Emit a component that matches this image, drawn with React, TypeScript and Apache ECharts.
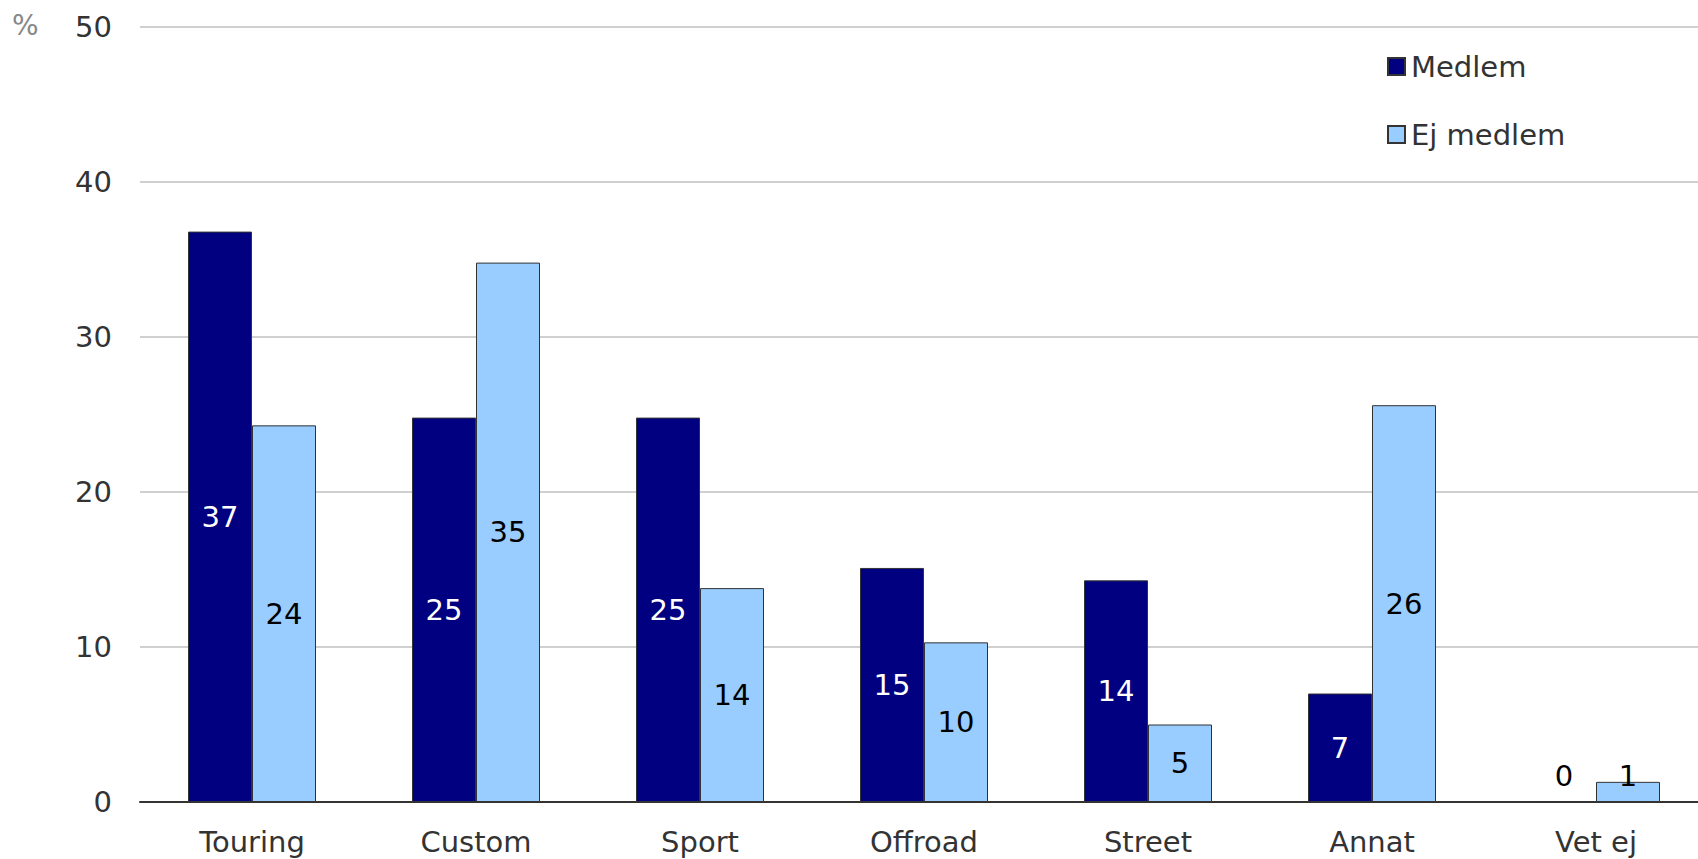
import React, { useEffect, useRef } from "react";
import * as echarts from "echarts";

const categories = ["Touring", "Custom", "Sport", "Offroad", "Street", "Annat", "Vet ej"];
const medlem = [36.8, 24.8, 24.8, 15.1, 14.3, 7.0, 0];
const ejMedlem = [24.3, 34.8, 13.8, 10.3, 5.0, 25.6, 1.3];
const yTicks = [0, 10, 20, 30, 40, 50];

const FONT = "DejaVu Sans, Verdana, sans-serif";
const FS = 29;

export default function App() {
  const ref = useRef<HTMLDivElement>(null);
  useEffect(() => {
    document.body.style.margin = "0";
    if (!ref.current) return;
    const chart = echarts.init(ref.current, null, { renderer: "svg" });
    const lastIdx = categories.length - 1;
    const mk = (vals: number[]) =>
      vals.map((v, i) =>
        i === lastIdx
          ? { value: v, label: { position: "insideBottom", distance: 12, color: "#000" } }
          : { value: v }
      );
    chart.setOption({
      animation: false,
      textStyle: { fontFamily: FONT },
      grid: {
        left: 140,
        right: -10,
        top: 27,
        bottom: 57,
        containLabel: false,
        outerBoundsMode: "none",
      },
      legend: {
        orient: "vertical",
        left: 1382,
        top: 47,
        itemWidth: 17,
        itemHeight: 17,
        itemGap: 39,
        icon: "rect",
        textStyle: { fontSize: FS, color: "#333", fontFamily: FONT, padding: [0, 0, 0, 1] },
        data: ["Medlem", "Ej medlem"],
      },
      graphic: [
        {
          type: "text",
          left: 12,
          top: 11,
          style: { text: "%", fontSize: 28, fill: "#888", fontFamily: FONT },
        },
      ],
      xAxis: {
        type: "category",
        data: categories,
        axisLine: { lineStyle: { color: "#333", width: 2 } },
        axisTick: { show: false },
        axisLabel: { fontSize: FS, color: "#333", margin: 25, fontFamily: FONT },
      },
      yAxis: {
        type: "value",
        min: yTicks[0],
        max: yTicks[yTicks.length - 1],
        interval: 10,
        axisLine: { show: false },
        axisTick: { show: false },
        axisLabel: { fontSize: FS, color: "#333", margin: 28, fontFamily: FONT },
        splitLine: { lineStyle: { color: "#c0c0c0", width: 1.5 } },
      },
      series: [
        {
          name: "Medlem",
          type: "bar",
          data: mk(medlem),
          barWidth: 64,
          barGap: "0%",
          itemStyle: { color: "#000080", borderColor: "#333", borderWidth: 1 },
          label: {
            show: true,
            position: "inside",
            color: "#fff",
            fontSize: FS,
            fontFamily: FONT,
            formatter: (p: any) => String(Math.round(p.value)),
          },
        },
        {
          name: "Ej medlem",
          type: "bar",
          data: mk(ejMedlem),
          barWidth: 64,
          barGap: "0%",
          itemStyle: { color: "#99ccff", borderColor: "#333", borderWidth: 1 },
          label: {
            show: true,
            position: "inside",
            color: "#000",
            fontSize: FS,
            fontFamily: FONT,
            formatter: (p: any) => String(Math.round(p.value)),
          },
        },
      ],
    });
    return () => chart.dispose();
  }, []);
  return <div ref={ref} style={{ width: 1698, height: 859 }} />;
}
